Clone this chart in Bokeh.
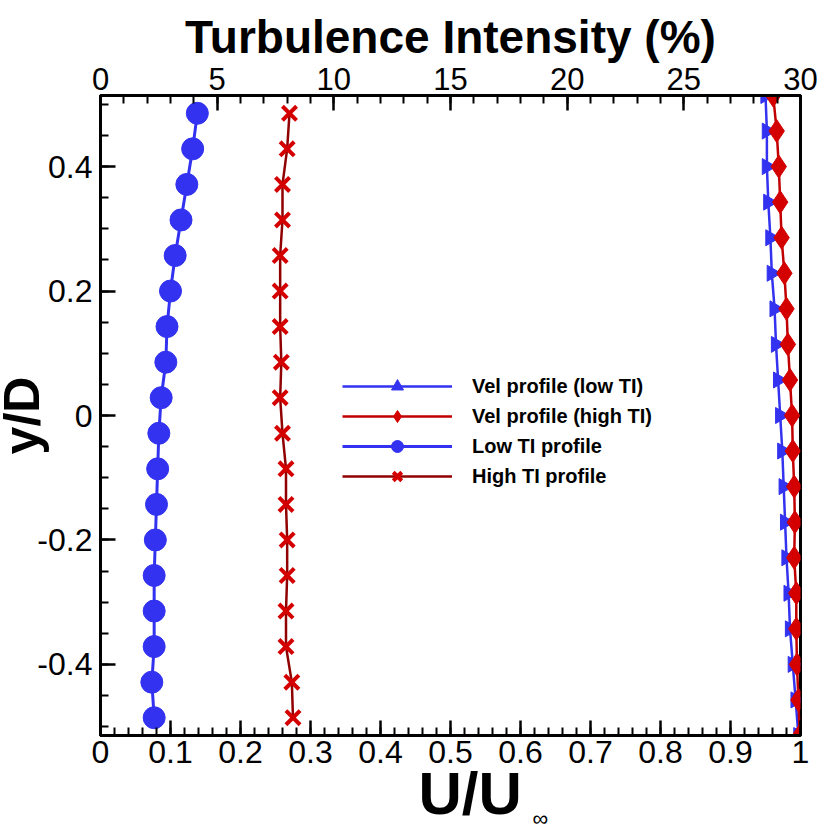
import numpy as np
from bokeh.plotting import figure
from bokeh.models import Range1d, LinearAxis, FixedTicker, CustomJSTickFormatter, Title
from bokeh.embed import file_html
from bokeh.resources import INLINE

# ---------------- data ----------------
y_vel = [0.5143, 0.4571, 0.4000, 0.3429, 0.2857, 0.2286, 0.1714, 0.1143, 0.0571, 0.0,
         -0.0571, -0.1143, -0.1714, -0.2286, -0.2857, -0.3429, -0.4000, -0.4571, -0.5143]
u_vel_low_ti = [0.950, 0.952, 0.952, 0.954, 0.957, 0.959, 0.963, 0.965, 0.968, 0.971,
                0.974, 0.976, 0.978, 0.980, 0.983, 0.985, 0.989, 0.993, 0.997]
u_vel_high_ti = [0.961, 0.966, 0.969, 0.971, 0.973, 0.977, 0.980, 0.982, 0.985, 0.988,
                 0.989, 0.991, 0.992, 0.991, 0.994, 0.994, 0.995, 0.997, 0.999]

y_ti = [0.4857, 0.4286, 0.3714, 0.3143, 0.2571, 0.2000, 0.1429, 0.0857, 0.0286,
        -0.0286, -0.0857, -0.1429, -0.2000, -0.2571, -0.3143, -0.3714, -0.4286, -0.4857]
ti_low = [4.15, 3.95, 3.70, 3.45, 3.20, 3.00, 2.85, 2.80, 2.60,
          2.50, 2.45, 2.40, 2.35, 2.30, 2.30, 2.30, 2.20, 2.30]
ti_high = [8.10, 8.00, 7.80, 7.80, 7.70, 7.70, 7.70, 7.75, 7.70,
           7.80, 7.95, 7.95, 8.00, 8.00, 7.95, 7.95, 8.20, 8.25]

x_ticks = [0, 0.1, 0.2, 0.3, 0.4, 0.5, 0.6, 0.7, 0.8, 0.9, 1.0]
ti_ticks = [0, 5, 10, 15, 20, 25, 30]
y_ticks = [-0.4, -0.2, 0, 0.2, 0.4]

BLUE = "#3232F0"
RED = "#D40000"
RED_LINE = "#C00000"
DARK_RED = "#900000"
FONT = "Liberation Sans"

p = figure(width=821, height=827, x_range=Range1d(0, 1), y_range=Range1d(-0.5143, 0.5143),
           output_backend="svg", toolbar_location=None,
           min_border_left=100, min_border_right=21, min_border_top=95, min_border_bottom=92)
p.extra_x_ranges = {"ti": Range1d(0, 30)}
p.xgrid.visible = False
p.ygrid.visible = False
p.outline_line_color = "black"
p.outline_line_width = 3
p.background_fill_color = "white"
p.border_fill_color = "white"

fmt = CustomJSTickFormatter(code="return String(Number(tick.toFixed(2)));")

bottom = p.xaxis[0]
left = p.yaxis[0]
bottom.ticker = FixedTicker(ticks=x_ticks, minor_ticks=list(np.round(np.arange(0, 1.0001, 0.02), 3)))
left.ticker = FixedTicker(ticks=y_ticks, minor_ticks=list(np.round(np.arange(-0.5, 0.5001, 0.05), 3)))
top = LinearAxis(x_range_name="ti", ticker=FixedTicker(ticks=ti_ticks, minor_ticks=list(range(0, 31))))
p.add_layout(top, "above")

for ax in [bottom, left, top]:
    ax.formatter = fmt
    ax.axis_line_width = 3
    ax.axis_line_color = "black"
    ax.major_tick_in = 15
    ax.major_tick_out = 0
    ax.minor_tick_in = 8
    ax.minor_tick_out = 0
    ax.major_tick_line_width = 2.5
    ax.minor_tick_line_width = 2
    ax.major_label_text_font = FONT
    ax.major_label_text_font_size = "32px"
    ax.major_label_text_color = "black"
    ax.axis_label_text_font = FONT
    ax.axis_label_text_font_style = "bold"
    ax.axis_label_text_color = "black"

bottom.major_label_standoff = 5
left.major_label_standoff = 8
top.major_label_standoff = 6
top.major_label_text_font_size = "31px"

top.axis_label = "Turbulence Intensity (%)"
top.axis_label_text_font_size = "46px"
top.axis_label_standoff = 2

# left title y/D as a title outside the left axis
p.add_layout(Title(text="y/D", align="center", vertical_align="middle",
                   standoff=-32, text_font=FONT, text_font_size="50px",
                   text_font_style="bold", text_color="black"), "left")

# bottom axis title U/U with a subscript infinity, as two titles below the axis
p.add_layout(Title(text="U/U", align="left", offset=318, vertical_align="bottom",
                   standoff=-16, text_font=FONT, text_font_size="60px",
                   text_font_style="bold", text_color="black"), "below")
p.add_layout(Title(text="∞", align="left", offset=432, vertical_align="middle",
                   standoff=-31, text_font=FONT, text_font_size="22px",
                   text_font_style="normal", text_color="black"), "below")

# ---------------- series ----------------
lv = "Vel profile (low TI)"
hv = "Vel profile (high TI)"
lt = "Low TI profile"
ht = "High TI profile"

p.line(u_vel_low_ti, y_vel, color=BLUE, line_width=2.5, legend_label=lv)
p.scatter(u_vel_low_ti, y_vel, marker="triangle", angle=-np.pi / 2, size=16,
          color=BLUE, legend_label=lv)

p.line(u_vel_high_ti, y_vel, color=RED_LINE, line_width=2.5, legend_label=hv)
p.scatter(u_vel_high_ti, y_vel, marker="diamond", size=23, color=RED, legend_label=hv)

p.line(ti_low, y_ti, x_range_name="ti", color=BLUE, line_width=3, legend_label=lt)
p.scatter(ti_low, y_ti, x_range_name="ti", marker="circle", size=22, color=BLUE, legend_label=lt)

p.line(ti_high, y_ti, x_range_name="ti", color=DARK_RED, line_width=2.5, legend_label=ht)
p.scatter(ti_high, y_ti, x_range_name="ti", marker="x", size=20, line_width=4,
          color=RED, legend_label=ht)

leg = p.legend[0]
leg.location = (242, 244)
leg.glyph_width = 110
leg.glyph_height = 30
leg.label_height = 30
leg.spacing = 0
leg.padding = 0
leg.margin = 0
leg.label_standoff = 20
leg.border_line_alpha = 0
leg.background_fill_alpha = 0
leg.label_text_font = FONT
leg.label_text_font_style = "bold"
leg.label_text_font_size = "20px"
leg.label_text_color = "black"

open("out.html", "w").write(file_html(p, INLINE))
